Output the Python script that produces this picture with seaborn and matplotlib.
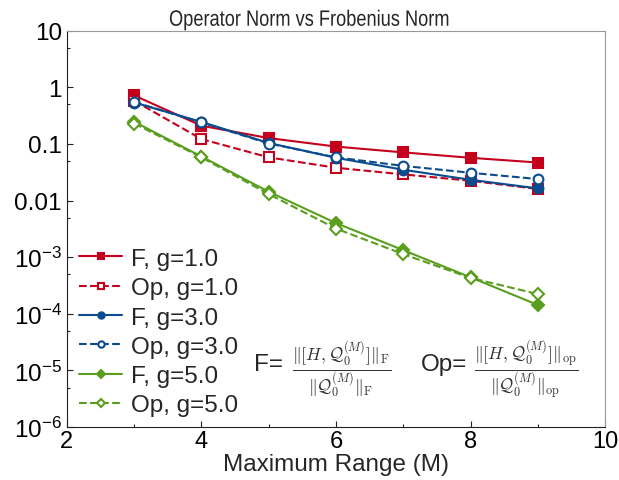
import matplotlib
matplotlib.use("Agg")
import matplotlib.pyplot as plt
import seaborn as sns
import numpy as np
from matplotlib.ticker import FixedLocator, FixedFormatter, NullFormatter
from matplotlib.patheffects import AbstractPathEffect
from matplotlib.transforms import Affine2D

sns.set_style("ticks")
plt.rcParams['font.family'] = ['Liberation Sans', 'DejaVu Sans']
plt.rcParams['mathtext.fontset'] = 'custom'
plt.rcParams['mathtext.rm'] = 'Liberation Sans'
plt.rcParams['mathtext.it'] = 'Liberation Sans:italic'

# ----------------------------------------------------------
# data
# ----------------------------------------------------------
M = [3, 4, 5, 6, 7, 8, 9]

f_g1 = [0.72, 0.21, 0.127, 0.090, 0.071, 0.057, 0.047]
op_g1 = [0.58, 0.122, 0.058, 0.038, 0.029, 0.0224, 0.016]
f_g3 = [0.54, 0.245, 0.104, 0.057, 0.035, 0.0233, 0.0164]
op_g3 = [0.55, 0.24, 0.102, 0.058, 0.041, 0.031, 0.024]
f_g5 = [0.247, 0.060, 0.0143, 0.0040, 0.00133, 0.00044, 0.000143]
op_g5 = [0.23, 0.058, 0.0130, 0.0032, 0.00113, 0.00043, 0.000223]

labels = ["F, g=1.0", "Op, g=1.0", "F, g=3.0", "Op, g=3.0", "F, g=5.0", "Op, g=5.0"]
ytick_vals = [1e-6, 1e-5, 1e-4, 1e-3, 1e-2, 1e-1, 1, 10]
ytick_labels = [r"$10^{-6}$", r"$10^{-5}$", r"$10^{-4}$", r"$10^{-3}$", "0.01", "0.1", "1", "10"]

red = "#c4001c"
blue = "#0a4b8d"
green = "#5a9e1e"

styles = [
    (f_g1, red, "-", "s", True),
    (op_g1, red, "--", "s", False),
    (f_g3, blue, "-", "o", True),
    (op_g3, blue, "--", "o", False),
    (f_g5, green, "-", "D", True),
    (op_g5, green, "--", "D", False),
]


class Condense(AbstractPathEffect):
    """squeeze a text horizontally around a centre x (display px)"""
    def __init__(self, cx, sx):
        super().__init__()
        self.cx, self.sx = cx, sx

    def draw_path(self, renderer, gc, tpath, affine, rgbFace=None):
        squeeze = Affine2D().translate(-self.cx, 0).scale(self.sx, 1).translate(self.cx, 0)
        renderer.draw_path(gc, tpath, affine + squeeze, rgbFace)


fig = plt.figure(figsize=(6.19, 4.81), dpi=100)
ax_box = [0.108, 0.110, 0.870, 0.824]
ax = fig.add_axes(ax_box)

for (vals, col, ls, mk, filled), lab in zip(styles, labels):
    sns.lineplot(x=M, y=vals, ax=ax, color=col, linestyle=ls, linewidth=1.5,
                 marker=mk, markersize=7 if mk != "D" else 6.5,
                 markerfacecolor=col if filled else "white",
                 markeredgecolor=col, markeredgewidth=1.5, label=lab)

ax.set_yscale("log")
ax.set_xlim(2, 10)
ax.set_ylim(1e-6, 10)
ax.set_xticks([2, 4, 6, 8, 10])
ax.set_xticks([3, 5, 7, 9], minor=True)
ax.yaxis.set_major_locator(FixedLocator(ytick_vals))
ax.yaxis.set_major_formatter(FixedFormatter(ytick_labels))
ax.yaxis.set_minor_locator(FixedLocator([5 * v for v in ytick_vals[:-1]]))
ax.yaxis.set_minor_formatter(NullFormatter())
ax.tick_params(which="both", direction="in", labelsize=17.5, colors="#222222")
ax.tick_params(which="major", length=4, width=0.8)
ax.tick_params(which="minor", length=2.5, width=0.8)
ax.tick_params(axis="both", labelcolor="black")
ax.tick_params(axis="x", pad=2, labelsize=17)

for s in ["left", "bottom"]:
    ax.spines[s].set_color("#222222")
for s in ["top", "right"]:
    ax.spines[s].set_color("#999999")

title_x = 0.45
title_cx = (ax_box[0] + title_x * ax_box[2]) * fig.bbox.width
ax.set_title("Operator Norm vs Frobenius Norm", fontsize=16, pad=0.5, x=title_x,
             path_effects=[Condense(title_cx, 0.82)])
ax.set_xlabel("Maximum Range (M)", fontsize=17.5, labelpad=1)
ax.set_ylabel("")

leg = ax.legend(loc="lower left", bbox_to_anchor=(-0.005, -0.01), frameon=False,
                fontsize=17.5, handlelength=1.8, handletextpad=0.35,
                labelspacing=0.3, markerscale=0.65, borderaxespad=0.2)

ax.text(0.348, 0.159, "F=", transform=ax.transAxes, fontsize=17.5, va="center")
ax.text(0.419, 0.146,
        r"$\frac{\|[H,\mathcal{Q}_0^{(M)}]\|_{\mathrm{F}}}{\|\mathcal{Q}_0^{(M)}\|_{\mathrm{F}}}$",
        transform=ax.transAxes, fontsize=18, va="center", math_fontfamily="cm", color="#333333")
ax.text(0.657, 0.159, "Op=", transform=ax.transAxes, fontsize=17.5, va="center")
ax.text(0.756, 0.146,
        r"$\frac{\|[H,\mathcal{Q}_0^{(M)}]\|_{\mathrm{op}}}{\|\mathcal{Q}_0^{(M)}\|_{\mathrm{op}}}$",
        transform=ax.transAxes, fontsize=18, va="center", math_fontfamily="cm", color="#333333")

fig.savefig("out.png", dpi=100)
